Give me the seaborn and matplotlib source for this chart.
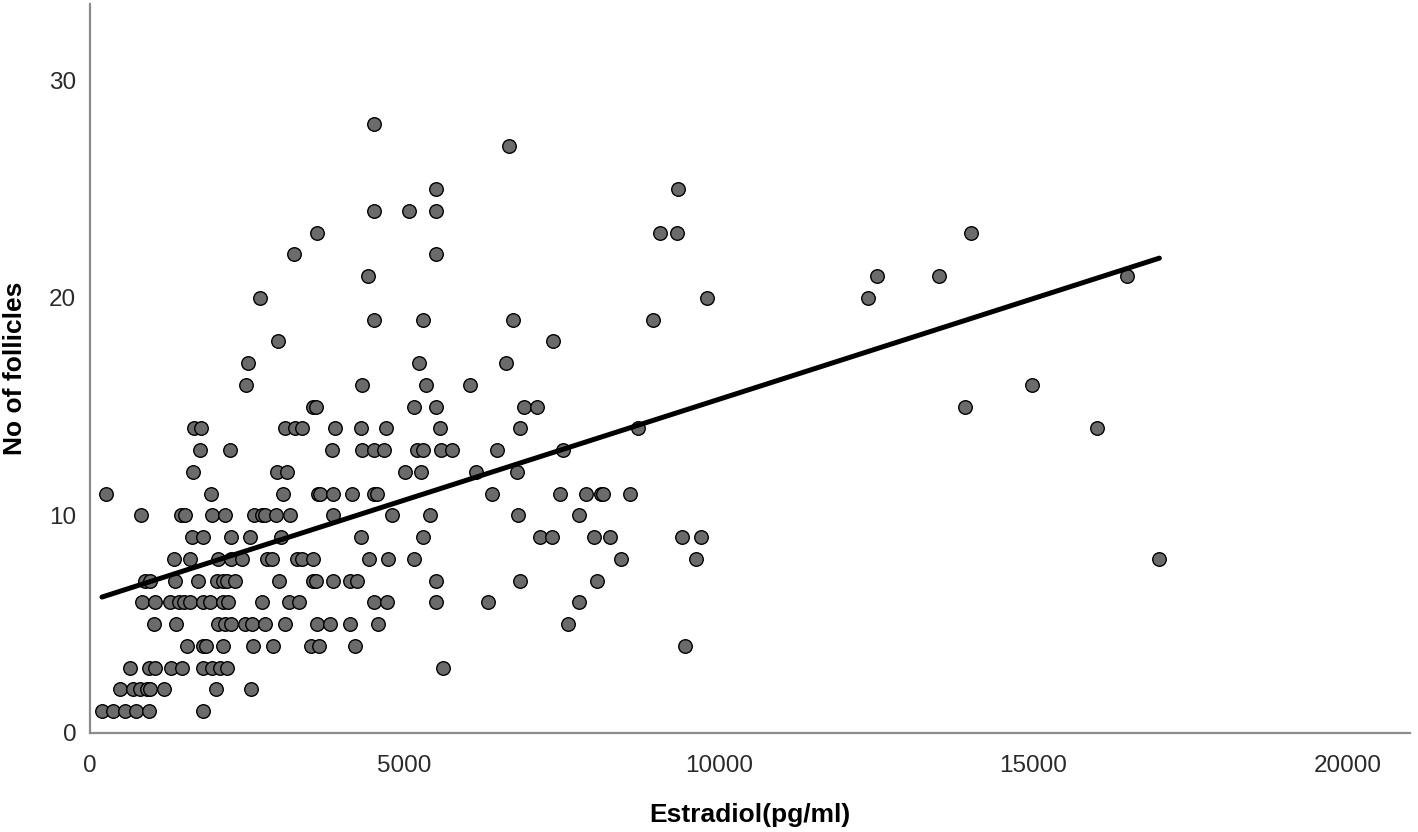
import matplotlib.pyplot as plt
import seaborn as sns
import pandas as pd

# values, grouped by follicle count
estradiol = [
    190, 370, 560, 730, 930, 1790,                                    # 1
    480, 690, 800, 900, 950, 1180, 2010, 2560,                        # 2
    640, 930, 1030, 1280, 1460, 1800, 1940, 2070, 2180, 5620,         # 3
    1540, 1800, 1850, 2110, 2600, 2910, 3520, 3650, 4210, 9470,       # 4
    1020, 1370, 2040, 2150, 2250, 2470, 2570, 2790, 3100, 3610,
    3810, 4130, 4580, 7600,                                           # 5
    820, 1030, 1270, 1420, 1500, 1590, 1790, 1910, 2110, 2200,
    2730, 3160, 3320, 4510, 4730, 5500, 6330, 7770,                   # 6
    880, 960, 1350, 1720, 2020, 2110, 2180, 2310, 3010, 3550,
    3600, 3860, 4140, 4240, 5500, 6840, 8060,                         # 7
    1340, 1590, 2030, 2240, 2420, 2820, 2900, 3300, 3370, 3540,
    4430, 4740, 5160, 8440, 9640, 17010,                              # 8
    1620, 1800, 2250, 2550, 3030, 4310, 5300, 7160, 7350, 8020,
    8270, 9420, 9720,                                                 # 9
    810, 1440, 1510, 1940, 2140, 2610, 2730, 2780, 2960, 3180,
    3870, 4810, 5400, 6800, 7770,                                     # 10
    260, 1920, 3070, 3620, 3660, 3870, 4160, 4520, 4570, 6390,
    7480, 7890, 8120, 8160, 8590,                                     # 11
    1630, 2980, 3140, 5010, 5260, 6140, 6790,                         # 12
    1750, 2220, 3850, 4320, 4520, 4670, 5200, 5300, 5580, 5760,
    6480, 7520,                                                       # 13
    1660, 1760, 3100, 3260, 3370, 3900, 4310, 4710, 5560, 6840,
    8720, 16020,                                                      # 14
    3550, 3590, 5160, 5500, 6910, 7110, 13920,                        # 15
    2480, 4330, 5350, 6050, 14980,                                    # 16
    2510, 5240, 6620,                                                 # 17
    2990, 7360,                                                       # 18
    4520, 5290, 6730, 8960,                                           # 19
    2710, 9810, 12380,                                                # 20
    4420, 12520, 13510, 16500,                                        # 21
    3250, 5500,                                                       # 22
    3610, 9070, 9340, 14020,                                          # 23
    4520, 5070, 5500,                                                 # 24
    5500, 9360,                                                       # 25
    6670,                                                             # 27
    4520,                                                             # 28
]
follicles = (
    [1] * 6 + [2] * 8 + [3] * 10 + [4] * 10 + [5] * 14 + [6] * 18
    + [7] * 17 + [8] * 16 + [9] * 13 + [10] * 15 + [11] * 15 + [12] * 7
    + [13] * 12 + [14] * 12 + [15] * 7 + [16] * 5 + [17] * 3 + [18] * 2
    + [19] * 4 + [20] * 3 + [21] * 4 + [22] * 2 + [23] * 4 + [24] * 3
    + [25] * 2 + [27] * 1 + [28] * 1
)

df = pd.DataFrame({'Estradiol': estradiol, 'Follicles': follicles})

sns.set_style('white')
plt.rcParams['font.family'] = ['Liberation Sans', 'DejaVu Sans']

fig = plt.figure(figsize=(14.18, 8.32), dpi=100)
ax = fig.add_axes([0.0635, 0.119, 0.931, 0.876])

sns.regplot(data=df, x='Estradiol', y='Follicles', ax=ax, ci=None,
            scatter_kws={'s': 95, 'color': '#6b6b6b', 'edgecolor': 'black',
                         'linewidths': 1.0, 'alpha': 1},
            line_kws={'color': 'black', 'linewidth': 3.6})

ax.set_xlim(0, 21000)
ax.set_ylim(0, 33.5)
ax.set_xticks([0, 5000, 10000, 15000, 20000])
ax.set_yticks([0, 10, 20, 30])
ax.tick_params(axis='both', length=0, labelsize=17.5, colors='#2a2a2a')
ax.tick_params(axis='x', pad=16)
ax.tick_params(axis='y', pad=10)

sns.despine(ax=ax)
for side in ['left', 'bottom']:
    ax.spines[side].set_color('#8c8c8c')
    ax.spines[side].set_linewidth(1.6)

ax.set_xlabel('Estradiol(pg/ml)', fontsize=19, fontweight='bold',
              color='black', va='center')
ax.set_ylabel('No of follicles', fontsize=19, fontweight='bold',
              color='black', va='center', ha='center')
ax.xaxis.set_label_coords(0.5, -0.1125)
ax.yaxis.set_label_coords(-0.0565, 0.5)

fig.savefig('out.png', dpi=100)
